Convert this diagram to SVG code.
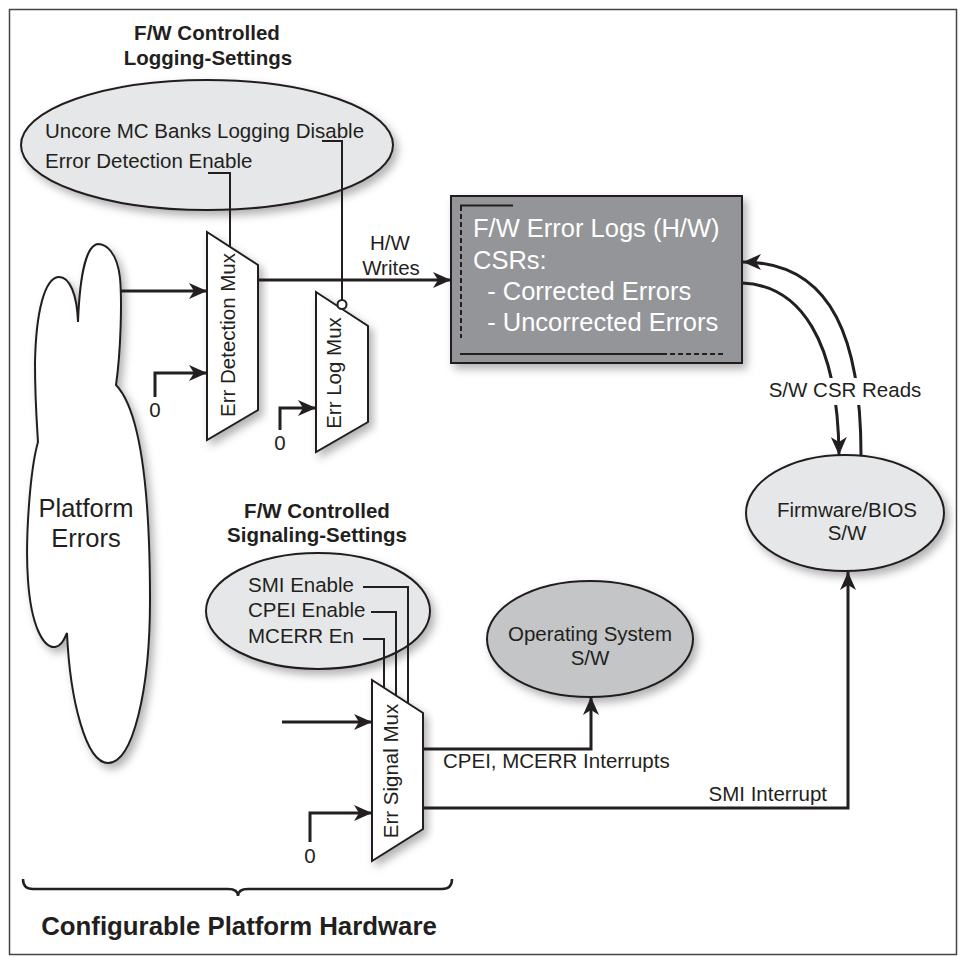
<svg xmlns="http://www.w3.org/2000/svg" width="966" height="957" viewBox="0 0 966 957">
<style>
text{font-family:"Liberation Sans",Arial,Helvetica,sans-serif;fill:#231f20;}
.t{font-size:20.5px;}
.b{font-size:20.5px;font-weight:bold;}
.big{font-size:25.5px;}
.w{font-size:25.5px;fill:#ffffff;}
.shape{stroke:#231f20;stroke-width:2;}
.ell{fill:#e6e7e8;stroke:#231f20;stroke-width:2;}
.mux{fill:#ffffff;stroke:#231f20;stroke-width:2;}
.wire{fill:none;stroke:#231f20;stroke-width:3;}
.thin{fill:none;stroke:#231f20;stroke-width:2;}
.arr{marker-end:url(#ah);}
</style>
<defs>
<marker id="ah" markerUnits="userSpaceOnUse" markerWidth="20" markerHeight="16" viewBox="0 0 20 16" refX="18" refY="8" orient="auto">
<path d="M0,0 L18,8 L0,16 L5,8 Z" fill="#231f20"/>
</marker>
<filter id="sh" x="-20%" y="-20%" width="140%" height="140%">
<feDropShadow dx="4" dy="5" stdDeviation="4" flood-color="#000" flood-opacity="0.3"/>
</filter>
</defs>
<rect x="0" y="0" width="966" height="957" fill="#ffffff"/>
<rect x="9.5" y="9.5" width="947" height="945" fill="none" stroke="#444" stroke-width="1.5"/>

<g id="logging-settings">
<text class="b" x="207" y="40" text-anchor="middle">F/W Controlled</text>
<text class="b" x="208" y="65" text-anchor="middle">Logging-Settings</text>
<ellipse class="ell" cx="207" cy="145" rx="186" ry="65" filter="url(#sh)"/>
<text class="t" x="45" y="138">Uncore MC Banks Logging Disable</text>
<text class="t" x="45" y="168">Error Detection Enable</text>
</g>

<g id="platform-errors">
<path class="shape" fill="#ffffff" filter="url(#sh)" d="M116,385 C121,350 122,300 120,278 C117,252 106,244 98,244 C88,245 80,268 78,322 C77,295 70,276 58,277 C45,279 36,310 35,363 C35,400 37,425 38,442 C30,470 25,540 28,580 C31,625 43,648 55,647 C61,646 64,640 67,633 C70,700 86,763 108,763 C133,763 150,690 150,600 C150,490 140,410 116,385 Z"/>
<text class="big" x="86" y="517" text-anchor="middle">Platform</text>
<text class="big" x="86" y="547" text-anchor="middle">Errors</text>
</g>

<g id="err-detection-mux">
<path class="mux" filter="url(#sh)" d="M207,232 L258,265 L258,410 L207,440 Z"/>
<text class="t" transform="translate(235,335) rotate(-90)" text-anchor="middle">Err Detection Mux</text>
<text class="t" x="155" y="417" text-anchor="middle">0</text>
</g>

<g id="err-log-mux">
<path class="mux" filter="url(#sh)" d="M316,292 L368,326 L368,422 L316,452 Z"/>
<text class="t" transform="translate(341,373) rotate(-90)" text-anchor="middle">Err Log Mux</text>
<text class="t" x="280" y="450" text-anchor="middle">0</text>
</g>

<g id="error-logs">
<rect x="451" y="196" width="291" height="167" fill="#939598" stroke="#231f20" stroke-width="2" filter="url(#sh)"/>
<line x1="460" y1="205.5" x2="513" y2="205.5" stroke="#231f20" stroke-width="2"/>
<line x1="461" y1="206" x2="461" y2="338" stroke="#231f20" stroke-width="2" stroke-dasharray="5,3"/>
<line x1="460" y1="354" x2="662" y2="354" stroke="#231f20" stroke-width="2"/>
<line x1="662" y1="354" x2="726" y2="354" stroke="#231f20" stroke-width="2" stroke-dasharray="5,3"/>
<text class="w" x="473" y="237">F/W Error Logs (H/W)</text>
<text class="w" x="473" y="269">CSRs:</text>
<text class="w" x="473" y="300" xml:space="preserve">  - Corrected Errors</text>
<text class="w" x="473" y="331" xml:space="preserve">  - Uncorrected Errors</text>
</g>

<g id="firmware-bios">
<ellipse class="ell" cx="845" cy="513" rx="99" ry="58" filter="url(#sh)"/>
<text class="t" x="847" y="517" text-anchor="middle">Firmware/BIOS</text>
<text class="t" x="847" y="540" text-anchor="middle">S/W</text>
</g>

<g id="signaling-settings">
<text class="b" x="317" y="518" text-anchor="middle">F/W Controlled</text>
<text class="b" x="317" y="542" text-anchor="middle">Signaling-Settings</text>
<ellipse class="ell" cx="318" cy="611" rx="112" ry="58" filter="url(#sh)"/>
<text class="t" x="248" y="592">SMI Enable</text>
<text class="t" x="248" y="617">CPEI Enable</text>
<text class="t" x="248" y="643">MCERR En</text>
</g>

<g id="err-signal-mux">
<path class="mux" filter="url(#sh)" d="M372,680 L423,713 L423,829 L372,861 Z"/>
<text class="t" transform="translate(398,771) rotate(-90)" text-anchor="middle">Err Signal Mux</text>
<text class="t" x="310" y="863" text-anchor="middle">0</text>
</g>

<g id="operating-system">
<ellipse cx="590" cy="639" rx="103" ry="58" fill="#c4c5c7" stroke="#231f20" stroke-width="2" filter="url(#sh)"/>
<text class="t" x="590" y="641" text-anchor="middle">Operating System</text>
<text class="t" x="590" y="665" text-anchor="middle">S/W</text>
</g>

<g id="connectors">
<path class="wire arr" d="M120,291 L207,291"/>
<path class="wire arr" d="M155,397 L155,373 L207,373"/>
<path class="wire arr" d="M258,280 L451,280"/>
<path class="thin" d="M208,173 L230,173 L230,247"/>
<path class="thin" d="M322,141 L342,141 L342,300"/>
<circle cx="342" cy="304.5" r="4.5" fill="#ffffff" stroke="#231f20" stroke-width="2"/>
<path class="wire arr" d="M280,430 L280,408 L316,408"/>
<path class="thin" d="M363,587 L408,587 L408,703"/>
<path class="thin" d="M371,612 L396,612 L396,695"/>
<path class="thin" d="M363,639 L384,639 L384,688"/>
<path class="wire arr" d="M282,722 L372,722"/>
<path class="wire arr" d="M310,842 L310,813 L372,813"/>
<path class="wire arr" d="M423,749 L591,749 L591,697"/>
<path class="wire arr" d="M423,808 L848,808 L848,572"/>
<path class="wire arr" d="M742,283 C800,285 838,340 839,455"/>
<path class="wire arr" d="M861,455 C861,345 835,262 743,262"/>
<text class="t" x="390" y="250" text-anchor="middle">H/W</text>
<text class="t" x="391" y="275" text-anchor="middle">Writes</text>
<rect x="766" y="378" width="158" height="27" fill="#ffffff"/>
<text class="t" x="845" y="397" text-anchor="middle">S/W CSR Reads</text>
<text class="t" x="443" y="768">CPEI, MCERR Interrupts</text>
<text class="t" x="827" y="801" text-anchor="end">SMI Interrupt</text>
</g>

<g id="hardware-brace">
<path d="M23,879 Q23,889 33,889 L228,889 Q238,889 238,896 Q238,889 248,889 L442,889 Q452,889 452,879" fill="none" stroke="#231f20" stroke-width="2.5"/>
<text x="239" y="935" text-anchor="middle" font-size="25.8px" font-weight="bold">Configurable Platform Hardware</text>
</g>
</svg>
